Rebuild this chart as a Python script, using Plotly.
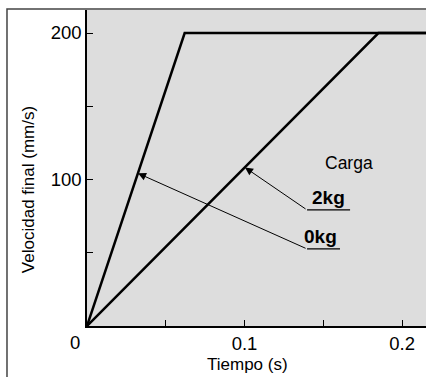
import plotly.graph_objects as go

# velocity ramps for each load (time s, final velocity mm/s)
t_0kg = [0, 0.062, 0.25]
v_0kg = [0, 200, 200]
t_2kg = [0, 0.185, 0.25]
v_2kg = [0, 200, 200]

x_ticks = [0, 0.05, 0.1, 0.15, 0.2]
x_ticklabels = ["", "", "0.1", "", "0.2"]
y_ticks = [0, 50, 100, 150, 200]
y_ticklabels = ["", "", "100", "", "200"]

FONT = "Liberation Sans, Arial, Helvetica, sans-serif"

fig = go.Figure()
fig.add_trace(go.Scatter(x=t_0kg, y=v_0kg, mode="lines", name="0kg",
                         line=dict(color="black", width=2.5), hoverinfo="skip"))
fig.add_trace(go.Scatter(x=t_2kg, y=v_2kg, mode="lines", name="2kg",
                         line=dict(color="black", width=2.5), hoverinfo="skip"))

# leader lines: underline + slanted arrow
leaders = [
    # label, text x, text y, bend x, bend y, underline end x, head x, head y
    ("2kg", 0.153, 88, 0.1397, 79.2, 0.167, 0.1003, 108.2),
    ("0kg", 0.148, 61, 0.1397, 52.6, 0.1606, 0.0324, 104.2),
]
annotations = []
shapes = []
for lab, tx, ty, bx, by, ux, hx, hy in leaders:
    shapes.append(dict(type="line", xref="x", yref="y", x0=bx, y0=by, x1=ux, y1=by,
                       line=dict(color="black", width=1.2)))
    annotations.append(dict(x=hx, y=hy, ax=bx, ay=by, xref="x", yref="y",
                            axref="x", ayref="y", text="", showarrow=True,
                            arrowhead=2, arrowsize=1.6, arrowwidth=1, arrowcolor="black"))
    annotations.append(dict(x=tx, y=ty, xref="x", yref="y", text="<b>%s</b>" % lab,
                            showarrow=False, font=dict(size=19, color="black", family=FONT)))

annotations.append(dict(x=0.1663, y=111, xref="x", yref="y", text="Carga",
                        showarrow=False, font=dict(size=17.5, color="black", family=FONT)))
annotations.append(dict(x=0, y=0, xref="x", yref="y", text="0", showarrow=False,
                        xshift=-12, yshift=-16,
                        font=dict(size=18.5, color="black", family=FONT)))

# axis titles placed as in the original (not centred on the axes)
annotations.append(dict(x=-0.174, y=0.43, xref="paper", yref="paper",
                        xanchor="center", yanchor="middle",
                        text="Velocidad final (mm/s)", textangle=-90, showarrow=False,
                        font=dict(size=17, color="black", family=FONT)))
annotations.append(dict(x=0.472, y=-0.123, xref="paper", yref="paper",
                        xanchor="center", yanchor="middle",
                        text="Tiempo (s)", showarrow=False,
                        font=dict(size=17, color="black", family=FONT)))

# outer frame
shapes.append(dict(type="rect", xref="paper", yref="paper", x0=-0.236, x1=1.05,
                   y0=-0.4, y1=1.0032, line=dict(color="#444", width=1.5),
                   layer="above"))

fig.update_layout(
    width=426, height=377,
    margin=dict(l=87, r=0, t=10, b=51, autoexpand=False),
    paper_bgcolor="white", plot_bgcolor="#dddddd",
    showlegend=False,
    font=dict(family=FONT, size=18.5, color="black"),
    annotations=annotations, shapes=shapes,
    xaxis=dict(range=[0, 0.2152], tickvals=x_ticks, ticktext=x_ticklabels,
               ticks="inside", ticklen=6, tickcolor="black", showgrid=False,
               zeroline=False, showline=True, linecolor="black", linewidth=1.5,
               automargin=False),
    yaxis=dict(range=[0, 215.7], tickvals=y_ticks, ticktext=y_ticklabels,
               ticks="inside", ticklen=6, tickcolor="black", showgrid=False,
               zeroline=False, showline=True, linecolor="black", linewidth=1.5,
               automargin=False),
)

fig.write_html("out.html", config={"displayModeBar": False},
               post_script="document.body.style.margin='0';")
